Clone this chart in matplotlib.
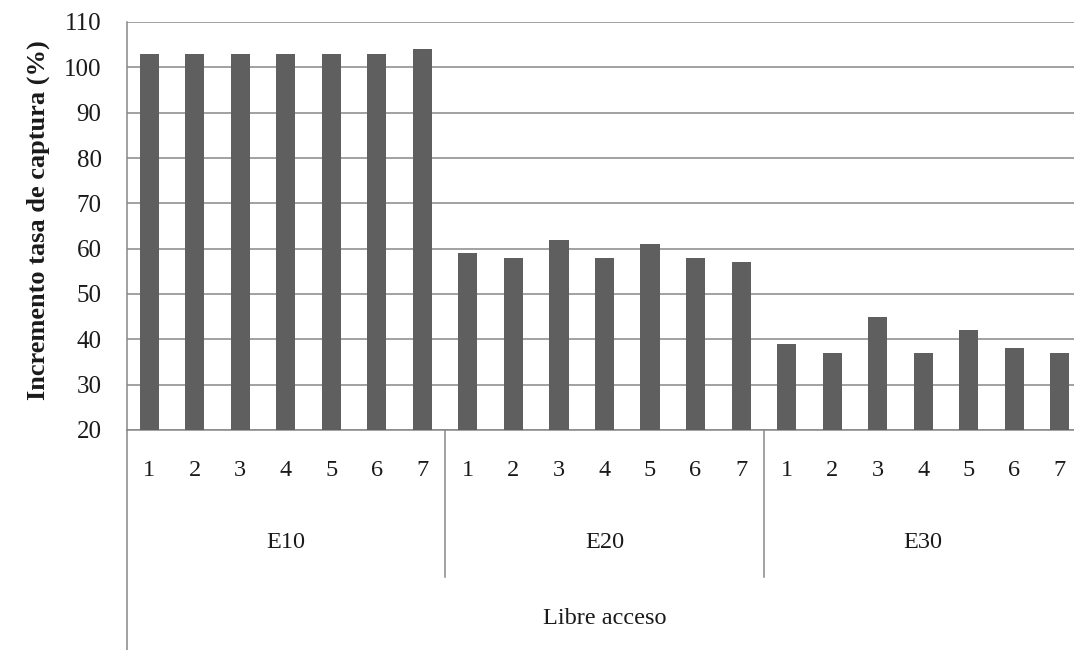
import matplotlib
matplotlib.use("Agg")
import matplotlib.pyplot as plt
from matplotlib.transforms import blended_transform_factory
import numpy as np

groups = ["E10", "E20", "E30"]
sub_labels = ["1", "2", "3", "4", "5", "6", "7"]
e10 = [103, 103, 103, 103, 103, 103, 104]
e20 = [59, 58, 62, 58, 61, 58, 57]
e30 = [39, 37, 45, 37, 42, 38, 37]
outer_label = "Libre acceso"
y_label = "Incremento tasa de captura (%)"
y_ticks = [20, 30, 40, 50, 60, 70, 80, 90, 100, 110]

plt.rcParams['font.family'] = ['Liberation Serif', 'DejaVu Serif']

W, H = 1074, 650
fig = plt.figure(figsize=(W / 100, H / 100), dpi=100)
left_px, right_px, top_px, bot_px = 126.5, 1082.5, 22, 430
ax = fig.add_axes([left_px / W, 1 - bot_px / H, (right_px - left_px) / W, (bot_px - top_px) / H])

values = e10 + e20 + e30
n = len(values)
x = np.arange(n)
bar_color = "#5f5f5f"
grid_color = "#878787"
text_color = "#1a1a1a"

ax.bar(x, [v - 20 for v in values], bottom=20, width=0.42, color=bar_color, zorder=3)
ax.set_xlim(-0.5, n - 0.5)
ax.set_ylim(20, 110)
ax.set_yticks(y_ticks)
ax.yaxis.grid(True, color=grid_color, linewidth=1.1, zorder=0)
ax.set_axisbelow(True)
for s in ["top", "right"]:
    ax.spines[s].set_visible(False)
for s in ["left", "bottom"]:
    ax.spines[s].set_color(grid_color)
    ax.spines[s].set_linewidth(1.1)
ax.tick_params(axis="y", length=0, pad=18, labelsize=18, labelcolor=text_color)
ax.set_xticks([])
ax.set_yticklabels([str(t) for t in y_ticks])

fig.text(38 / W, 1 - 220 / H, y_label, rotation=90, ha="center", va="center",
         fontsize=19, fontweight="bold", color=text_color)

tr = blended_transform_factory(ax.transData, fig.transFigure)
def fy(px):
    return 1 - px / H

# sub labels
for i in range(n):
    ax.text(x[i], fy(470), sub_labels[i % 7], transform=tr, ha="center", va="center",
            fontsize=17.5, color=text_color, clip_on=False)
# group labels
for g, name in enumerate(groups):
    ax.text(g * 7 + 3, fy(543), name, transform=tr, ha="center", va="center",
            fontsize=17.5, color=text_color, clip_on=False)
# outer label
ax.text((n - 1) / 2, fy(619), outer_label, transform=tr, ha="center", va="center",
        fontsize=17.5, color=text_color, clip_on=False)

# separator lines
for xs in [6.5, 13.5]:
    ax.plot([xs, xs], [fy(430), fy(577)], transform=tr, color=grid_color,
            linewidth=1.1, clip_on=False)
ax.plot([-0.5, -0.5], [fy(430), fy(650)], transform=tr, color=grid_color,
        linewidth=1.1, clip_on=False)

fig.savefig("out.png", dpi=100)
